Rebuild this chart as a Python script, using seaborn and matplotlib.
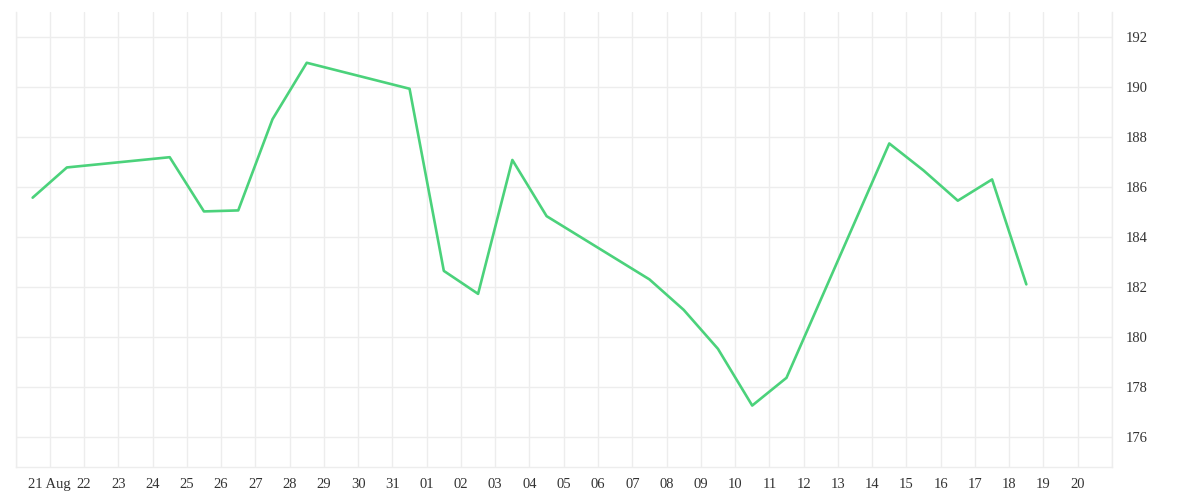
import matplotlib
matplotlib.use("Agg")
import matplotlib.pyplot as plt
import seaborn as sns
import pandas as pd

# Daily closes (trading days only, weekends skipped)
dates = [
    "2020-08-20", "2020-08-21", "2020-08-24", "2020-08-25", "2020-08-26",
    "2020-08-27", "2020-08-28", "2020-08-31", "2020-09-01", "2020-09-02",
    "2020-09-03", "2020-09-04", "2020-09-07", "2020-09-08", "2020-09-09",
    "2020-09-10", "2020-09-11", "2020-09-14", "2020-09-15", "2020-09-16",
    "2020-09-17", "2020-09-18",
]
prices = [
    185.58, 186.79, 187.20, 185.03, 185.07,
    188.72, 190.98, 189.94, 182.65, 181.73,
    187.09, 184.84, 182.31, 181.09, 179.53,
    177.26, 178.37, 187.75, 186.67, 185.46,
    186.31, 182.11,
]
y_ticks = [176, 178, 180, 182, 184, 186, 188, 190, 192]

df = pd.DataFrame({"date": pd.to_datetime(dates) + pd.Timedelta(hours=12),
                   "price": prices})

sns.set_style("white")
plt.rcParams["font.family"] = ["Liberation Serif", "DejaVu Serif"]

grid_col = "#ededed"
line_col = "#4bd27b"

fig = plt.figure(figsize=(12, 5), dpi=100)
ax = fig.add_axes([15.5 / 1200, 33 / 500, (1112 - 15.5) / 1200, (467 - 12.3) / 500])

sns.lineplot(data=df, x="date", y="price", ax=ax, color=line_col, linewidth=1.9)

start = pd.Timestamp("2020-08-20")
end = pd.Timestamp("2020-09-21")
ax.set_xlim(start, end)
ax.set_ylim(174.8, 193.0)

days = pd.date_range(start, end, freq="D")
ax.set_xticks(days)
labels = []
for d in days:
    if d == start or d == end:
        labels.append("")
    elif d == pd.Timestamp("2020-08-21"):
        labels.append("21 Aug")
    else:
        labels.append(d.strftime("%d"))
ax.set_xticklabels(labels)

ax.set_yticks(y_ticks)
ax.yaxis.tick_right()

ax.grid(True, color=grid_col, linewidth=1)
ax.set_axisbelow(True)
ax.tick_params(axis="x", length=9, width=1, color=grid_col, pad=-1,
               labelsize=10.5, labelcolor="#333333")
ax.tick_params(axis="y", length=0, pad=10, labelsize=10.5, labelcolor="#333333")

for side in ["left", "right", "bottom"]:
    ax.spines[side].set_color(grid_col)
    ax.spines[side].set_linewidth(1)
ax.spines["top"].set_visible(False)

ax.set_xlabel("")
ax.set_ylabel("")

fig.savefig("out.png", dpi=100)
